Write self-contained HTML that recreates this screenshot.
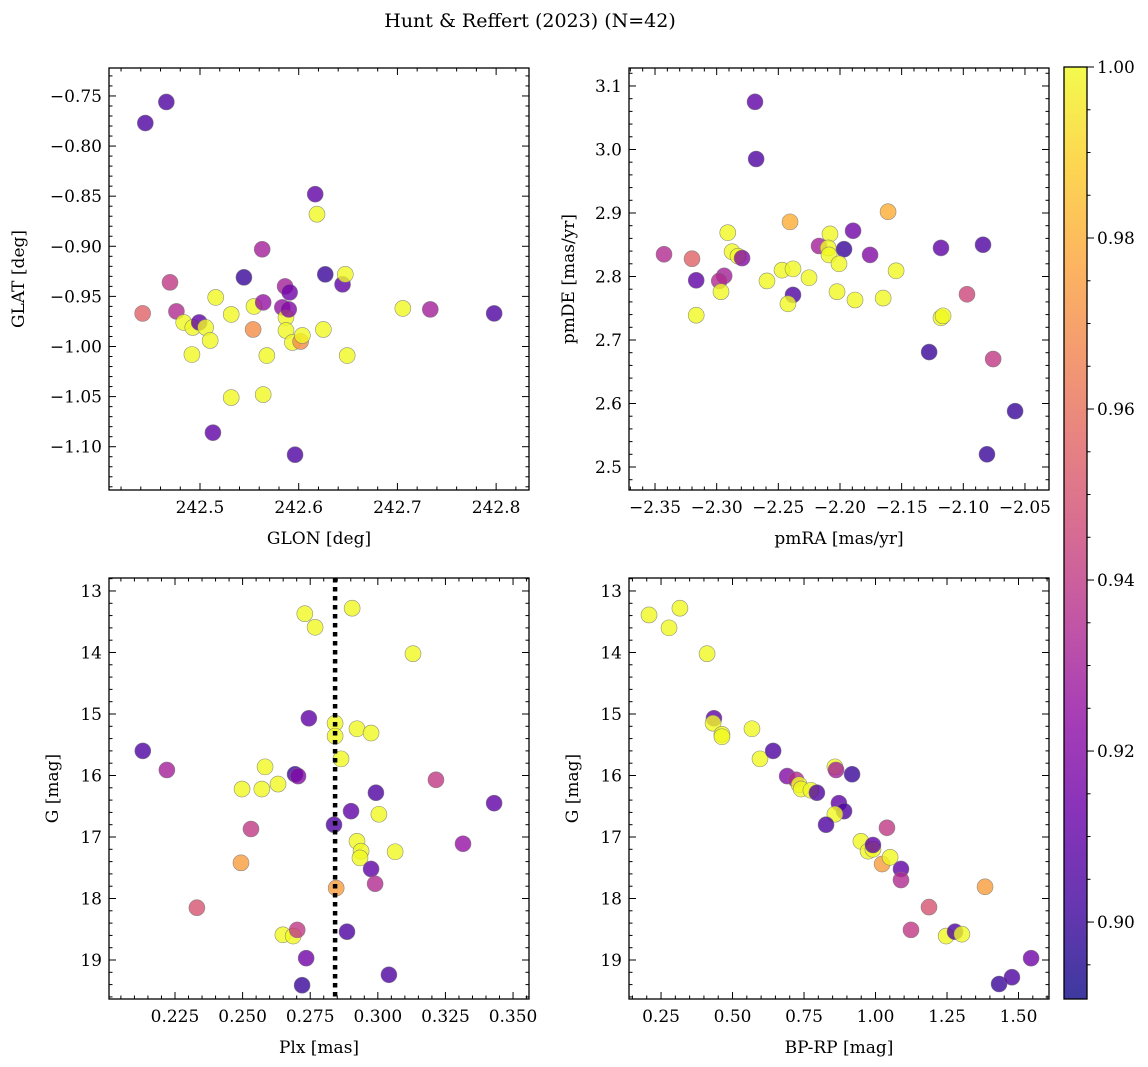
<!DOCTYPE html>
<html><head><meta charset="utf-8"><style>
body{margin:0;background:#fff;}
svg{display:block;font-family:"DejaVu Serif","Liberation Serif",serif;}
</style></head><body>
<svg id="fig" width="1148" height="1067" viewBox="0 0 1148 1067" xmlns="http://www.w3.org/2000/svg">
<rect width="1148" height="1067" fill="#fff"/>
<text x="530" y="27" font-size="19" text-anchor="middle">Hunt &amp; Reffert (2023) (N=42)</text>
</svg>
<script>
// Panel 1: GLON / GLAT
const glon=[242.4446,242.4659,242.4419,242.4696,242.4761,242.4835,242.4927,242.4992,242.5057,242.4918,242.5103,242.5159,242.5131,242.5316,242.5316,242.5445,242.5538,242.5547,242.5630,242.5640,242.5640,242.5677,242.5834,242.5862,242.5871,242.5871,242.5908,242.5899,242.5936,242.5963,242.6019,242.6037,242.6167,242.6185,242.6269,242.6250,242.6444,242.6472,242.6491,242.7055,242.7333,242.7980];
const glat=[-0.777,-0.756,-0.967,-0.936,-0.965,-0.976,-0.981,-0.976,-0.981,-1.008,-0.994,-0.951,-1.086,-0.968,-1.051,-0.931,-0.983,-0.960,-0.903,-0.956,-1.048,-1.009,-0.961,-0.940,-0.971,-0.984,-0.946,-0.963,-0.996,-1.108,-0.995,-0.989,-0.848,-0.868,-0.928,-0.983,-0.938,-0.928,-1.009,-0.962,-0.963,-0.967];
const prob1=[0.905,0.905,0.955,0.94,0.935,1,1,0.91,1,1,1,1,0.91,1,1,0.90,0.97,1,0.93,0.925,1,1,0.925,0.93,1,1,0.915,0.92,1,0.905,0.97,1,0.91,1,0.90,1,0.91,1,1,1,0.93,0.905];
// Panel 2: proper motions
const pmra=[-2.3427,-2.3200,-2.3166,-2.3166,-2.2910,-2.2875,-2.2827,-2.2794,-2.2939,-2.2979,-2.2965,-2.2680,-2.2689,-2.2405,-2.2592,-2.2470,-2.2381,-2.2251,-2.2381,-2.2422,-2.2170,-2.2081,-2.2096,-2.2089,-2.1967,-2.1894,-2.1756,-2.2008,-2.2024,-2.1878,-2.1650,-2.1545,-2.1610,-2.1277,-2.1181,-2.1164,-2.1181,-2.0970,-2.0840,-2.0758,-2.0808,-2.0580];
const pmde=[2.835,2.828,2.794,2.739,2.869,2.839,2.832,2.829,2.801,2.793,2.776,2.985,3.075,2.886,2.793,2.810,2.812,2.798,2.771,2.757,2.848,2.867,2.845,2.834,2.843,2.872,2.834,2.820,2.776,2.763,2.766,2.809,2.902,2.681,2.735,2.738,2.845,2.772,2.850,2.670,2.520,2.588];
const prob2=[0.935,0.955,0.91,1,1,1,1,0.92,0.93,0.935,1,0.905,0.91,0.98,1,1,1,1,0.905,1,0.93,1,1,1,0.90,0.915,0.92,1,1,1,1,1,0.98,0.90,1,1,0.91,0.945,0.905,0.94,0.90,0.90];
// Panel 3: parallax vs G
const plx=[0.2131,0.2220,0.2331,0.2498,0.2571,0.2631,0.2583,0.2531,0.2494,0.2694,0.2705,0.2745,0.2842,0.2842,0.2923,0.2975,0.2864,0.2993,0.2901,0.3004,0.2838,0.2923,0.2938,0.2934,0.3064,0.2975,0.2990,0.2846,0.2730,0.2768,0.2905,0.3130,0.2649,0.2687,0.2702,0.2735,0.2720,0.2886,0.3041,0.3215,0.3315,0.3430];
const gmag3=[15.60,15.91,18.15,16.22,16.22,16.14,15.86,16.87,17.42,15.98,16.01,15.07,15.15,15.36,15.24,15.31,15.73,16.28,16.58,16.63,16.80,17.07,17.23,17.34,17.24,17.52,17.76,17.83,13.37,13.59,13.28,14.02,18.59,18.61,18.51,18.97,19.41,18.54,19.24,16.07,17.11,16.45];
const prob3=[0.905,0.93,0.95,1,1,1,1,0.94,0.975,0.90,0.92,0.91,1,1,1,1,1,0.905,0.91,1,0.905,1,1,1,1,0.91,0.935,0.975,1,1,1,1,1,1,0.94,0.915,0.90,0.905,0.905,0.94,0.925,0.91];
const plxRef=[0.2842];
// Panel 4: CMD
const bprp=[0.208,0.278,0.316,0.411,0.435,0.432,0.463,0.463,0.568,0.596,0.642,0.691,0.722,0.733,0.740,0.774,0.795,0.858,0.862,0.918,0.872,0.890,0.858,0.827,0.949,0.974,0.991,0.991,1.040,1.023,1.051,1.089,1.089,1.124,1.187,1.247,1.278,1.302,1.383,1.432,1.477,1.544];
const gmag4=[13.39,13.60,13.28,14.02,15.07,15.15,15.33,15.37,15.24,15.73,15.60,16.01,16.07,16.15,16.22,16.24,16.28,15.86,15.91,15.98,16.45,16.58,16.63,16.80,17.07,17.23,17.20,17.13,16.85,17.44,17.33,17.52,17.70,18.51,18.14,18.61,18.54,18.58,17.81,19.39,19.28,18.97];
const prob4=[1,1,1,1,0.91,1,1,1,1,1,0.905,0.92,0.935,1,1,1,0.905,1,0.93,0.90,0.91,0.905,1,0.905,1,1,1,0.91,0.94,0.975,1,0.91,0.935,0.94,0.95,1,0.905,1,0.975,0.90,0.905,0.915];
const cbTicks=[0.90,0.92,0.94,0.96,0.98,1.00];

const NS='http://www.w3.org/2000/svg';
const svg=document.getElementById('fig');
const VMIN=0.891,VMAX=1.0;
const stops=['#0d0887','#41049d','#6a00a8','#8f0da4','#b12a90','#cc4778','#e16462','#f2844b','#fca636','#fcce25','#f0f921'];
function hex(c){return [1,3,5].map(i=>parseInt(c.substr(i,2),16));}
function plasma(t){t=Math.max(0,Math.min(1,t));const p=t*10,i=Math.min(9,Math.floor(p)),f=p-i;const a=hex(stops[i]),b=hex(stops[i+1]);return 'rgb('+a.map((v,k)=>Math.round(v+(b[k]-v)*f)).join(',')+')';}
function el(tag,attrs,parent){const e=document.createElementNS(NS,tag);for(const k in attrs)e.setAttribute(k,attrs[k]);(parent||svg).appendChild(e);return e;}
function fmt(v,d){return (v<0?'\u2212':'')+Math.abs(v).toFixed(d);}

function panel(o){
  const g=el('g',{});
  
  
  const sx=v=>o.x0+(v-o.xmin)/(o.xmax-o.xmin)*(o.x1-o.x0);
  const sy=o.invert?(v=>o.y0+(v-o.ymin)/(o.ymax-o.ymin)*(o.y1-o.y0)):(v=>o.y1-(v-o.ymin)/(o.ymax-o.ymin)*(o.y1-o.y0));
  for(let i=0;i<o.xs.length;i++){
    const c=el('circle',{cx:sx(o.xs[i]),cy:sy(o.ys[i]),r:8,fill:plasma((o.cs[i]-VMIN)/(VMAX-VMIN)),'fill-opacity':0.8,stroke:'#777','stroke-width':0.6,'stroke-opacity':0.8},g);
    
    
  }
  if(o.vline){
    const l=el('line',{x1:sx(o.vline),x2:sx(o.vline),y1:o.y0,y2:o.y1,stroke:'#000','stroke-width':4.5,'stroke-dasharray':'4.5 4.5'},g);
    
    
  }
  const fr=el('rect',{x:o.x0,y:o.y0,width:o.x1-o.x0,height:o.y1-o.y0,fill:'none',stroke:'#000','stroke-width':1.3},g);
  
  
  const eps=1e-9;
  let start=Math.ceil(o.xmin/o.xminor-eps);
  for(let k=start;k*o.xminor<=o.xmax+eps;k++){
    const v=k*o.xminor,x=sx(v);
    const major=Math.abs(v/o.xmajor-Math.round(v/o.xmajor))<1e-6;
    const L=major?7:3.5;
    el('line',{x1:x,x2:x,y1:o.y1,y2:o.y1-L,stroke:'#000','stroke-width':1},g);
    el('line',{x1:x,x2:x,y1:o.y0,y2:o.y0+L,stroke:'#000','stroke-width':1},g);
    if(major){const t=el('text',{x:x,y:o.y1+23,'font-size':17,'text-anchor':'middle'},g);t.textContent=fmt(v,o.xdec);
      
      }
  }
  start=Math.ceil(o.ymin/o.yminor-eps);
  for(let k=start;k*o.yminor<=o.ymax+eps;k++){
    const v=k*o.yminor,y=sy(v);
    const major=Math.abs(v/o.ymajor-Math.round(v/o.ymajor))<1e-6;
    const L=major?7:3.5;
    el('line',{x1:o.x0,x2:o.x0+L,y1:y,y2:y,stroke:'#000','stroke-width':1},g);
    el('line',{x1:o.x1,x2:o.x1-L,y1:y,y2:y,stroke:'#000','stroke-width':1},g);
    if(major){const t=el('text',{x:o.x0-7,y:y+6,'font-size':17,'text-anchor':'end'},g);t.textContent=fmt(v,o.ydec);
      
      }
  }
  const xl=el('text',{x:(o.x0+o.x1)/2,y:o.y1+54,'font-size':17,'text-anchor':'middle'},g);xl.textContent=o.xlabel;
  
  
  const yx=o.ylx,yy=(o.y0+o.y1)/2;
  const yl=el('text',{x:yx,y:yy,'font-size':17,'text-anchor':'middle',transform:'rotate(-90 '+yx+' '+yy+')'},g);yl.textContent=o.ylabel;
  
  
}

panel({name:'panel-glon-glat',x0:109,x1:529,y0:68,y1:490,xmin:242.4078,xmax:242.8333,ymin:-1.1432,ymax:-0.7221,xs:glon,ys:glat,cs:prob1,xmajor:0.1,xminor:0.02,ymajor:0.05,yminor:0.01,xdec:1,ydec:2,xlabel:'GLON [deg]',ylabel:'GLAT [deg]',ylx:24});
panel({name:'panel-proper-motion',x0:629,x1:1049,y0:68,y1:490,xmin:-2.3711,xmax:-2.0305,ymin:2.4638,ymax:3.1283,xs:pmra,ys:pmde,cs:prob2,xmajor:0.05,xminor:0.01,ymajor:0.1,yminor:0.02,xdec:2,ydec:1,xlabel:'pmRA [mas/yr]',ylabel:'pmDE [mas/yr]',ylx:574});
panel({name:'panel-parallax-g',x0:109,x1:529,y0:578,y1:999,xmin:0.2006,xmax:0.3559,ymin:12.789,ymax:19.634,invert:true,xs:plx,ys:gmag3,cs:prob3,vline:plxRef[0],xmajor:0.025,xminor:0.005,ymajor:1,yminor:0.2,xdec:3,ydec:0,xlabel:'Plx [mas]',ylabel:'G [mag]',ylx:58});
panel({name:'panel-cmd',x0:629,x1:1049,y0:578,y1:999,xmin:0.138,xmax:1.6066,ymin:12.789,ymax:19.634,invert:true,xs:bprp,ys:gmag4,cs:prob4,xmajor:0.25,xminor:0.05,ymajor:1,yminor:0.2,xdec:2,ydec:0,xlabel:'BP-RP [mag]',ylabel:'G [mag]',ylx:578});

const cb=el('g',{});


const CX0=1064,CX1=1087,CY0=67,CY1=999;
const defs=el('defs',{},cb);
const gr=el('linearGradient',{id:'cbg',x1:0,y1:1,x2:0,y2:0},defs);
stops.forEach((s,i)=>el('stop',{offset:(i/10),'stop-color':s},gr));
el('rect',{x:CX0,y:CY0,width:CX1-CX0,height:CY1-CY0,fill:'url(#cbg)','fill-opacity':0.8},cb);
el('rect',{x:CX0,y:CY0,width:CX1-CX0,height:CY1-CY0,fill:'none',stroke:'#000','stroke-width':1.3},cb);
const cy=v=>CY1-(v-VMIN)/(VMAX-VMIN)*(CY1-CY0);
for(let k=Math.ceil(VMIN/0.005);k*0.005<=VMAX+1e-9;k++){
  const y=cy(k*0.005);
  el('line',{x1:CX1,x2:CX1+3.5,y1:y,y2:y,stroke:'#000','stroke-width':1},cb);
}
cbTicks.forEach(v=>{
  const y=cy(v);
  el('line',{x1:CX1,x2:CX1+7,y1:y,y2:y,stroke:'#000','stroke-width':1},cb);
  const t=el('text',{x:CX1+10,y:y+6,'font-size':17},cb);t.textContent=v.toFixed(2);
  
  
});
</script>
</body></html>
